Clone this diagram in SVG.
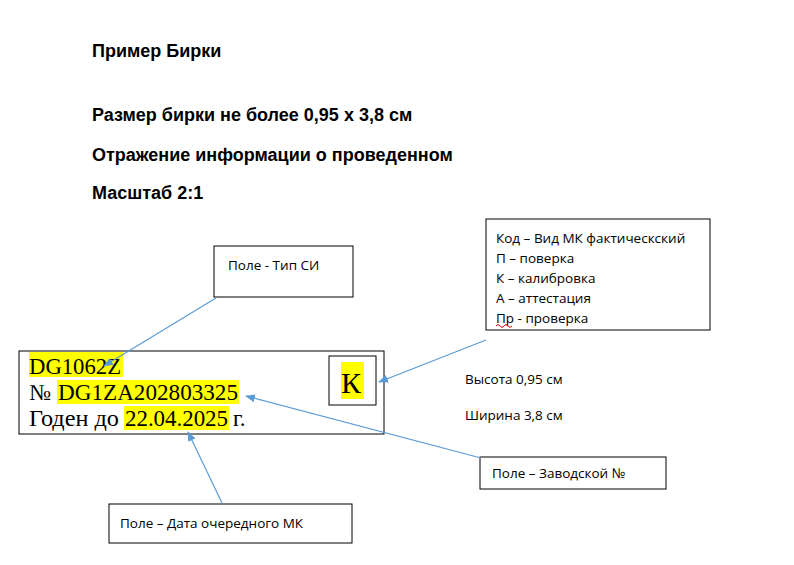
<svg xmlns="http://www.w3.org/2000/svg" width="794" height="565" viewBox="0 0 794 565">
<style>
.h{font-family:"Liberation Sans",Arial,sans-serif;font-weight:bold;font-size:18px;fill:#000}
.l{font-family:"Open Sans","Liberation Sans",sans-serif;font-size:13.5px;fill:#000}
.s{font-family:"Liberation Serif","Times New Roman",serif;font-size:23px;fill:#000}
.b{fill:#fff;stroke:#000;stroke-width:1}
.y{fill:#ffff00}
.c{stroke:#5b9bd5;stroke-width:1.2;fill:none;marker-end:url(#a)}
</style>
<defs><marker id="a" markerWidth="10" markerHeight="8" refX="9" refY="4" orient="auto" markerUnits="userSpaceOnUse"><path d="M0,0 L10,4 L0,8 z" fill="#5b9bd5"/></marker></defs>
<rect width="794" height="565" fill="#fff"/>
<text class="h" x="92" y="57">Пример Бирки</text>
<text class="h" x="92" y="121">Размер бирки не более 0,95 х 3,8 см</text>
<text class="h" x="92" y="161">Отражение информации о проведенном</text>
<text class="h" x="92" y="199">Масштаб 2:1</text>
<g id="tag">
<rect class="b" x="19" y="351" width="365" height="83"/>
<rect class="y" x="29" y="352" width="94" height="25"/>
<rect class="y" x="57" y="380" width="182" height="24"/>
<rect class="y" x="124" y="406" width="105" height="24"/>
<text class="s" x="29" y="374" textLength="92" lengthAdjust="spacingAndGlyphs">DG1062Z</text>
<text class="s" x="29" y="400">№</text>
<text class="s" x="58" y="400" textLength="180" lengthAdjust="spacingAndGlyphs">DG1ZA202803325</text>
<text class="s" x="29" y="426" textLength="90" lengthAdjust="spacingAndGlyphs">Годен до</text>
<text class="s" x="125" y="426" textLength="103" lengthAdjust="spacingAndGlyphs">22.04.2025</text>
<text class="s" x="233" y="426">г.</text>
<rect class="b" x="329" y="356" width="47" height="49"/>
<rect class="y" x="341" y="362" width="23" height="37"/>
<text class="s" x="341" y="393" style="font-size:30px">К</text>
</g>
<g id="type"><rect class="b" x="214" y="246" width="139" height="51"/><text class="l" x="228" y="270">Поле - Тип СИ</text></g>
<g id="code"><rect class="b" x="486" y="219" width="224" height="111"/>
<text class="l" x="496" y="243">Код – Вид МК фактическский</text>
<text class="l" x="496" y="263">П – поверка</text>
<text class="l" x="496" y="283">К – калибровка</text>
<text class="l" x="496" y="303">А – аттестация</text>
<text class="l" x="496" y="323">Пр - проверка</text>
<path d="M496,326 q2,-3 4,0 t4,0 t4,0 t4,0" stroke="#e00" fill="none" stroke-width="1"/></g>
<g id="dims"><text class="l" x="465" y="384">Высота 0,95 см</text><text class="l" x="465" y="420">Ширина 3,8 см</text></g>
<g id="serial"><rect class="b" x="480" y="457" width="186" height="32"/><text class="l" x="492" y="478">Поле – Заводской №</text></g>
<g id="date"><rect class="b" x="109" y="504" width="243" height="39"/><text class="l" x="120" y="528">Поле – Дата очередного МК</text></g>
<g id="connectors">
<path class="c" d="M216,298 L104,366"/>
<path class="c" d="M486,340 L379,382"/>
<path class="c" d="M481,458 L246,396"/>
<path class="c" d="M222,503 L188,432"/>
</g>
</svg>
